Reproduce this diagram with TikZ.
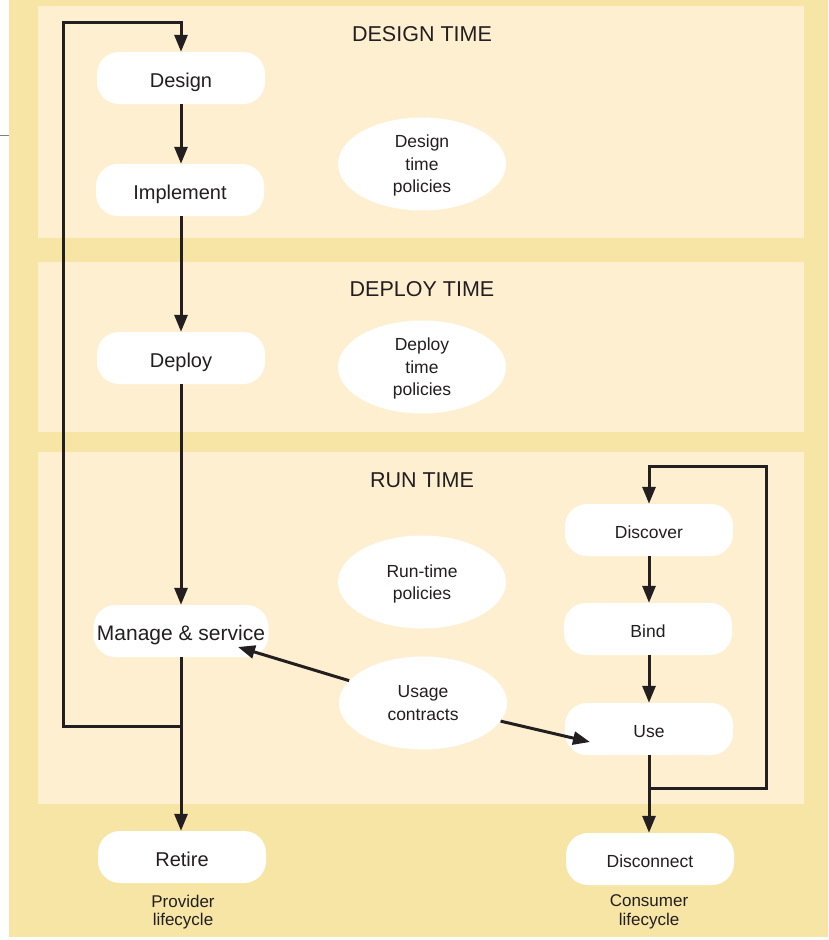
\documentclass[tikz,border=0pt]{standalone}
\usepackage{fontspec}
\setmainfont{Liberation Sans}
\usetikzlibrary{arrows.meta,shapes.geometric}
\definecolor{outerbg}{HTML}{F7E5A6}
\definecolor{panelbg}{HTML}{FEEFD0}
\definecolor{ink}{HTML}{231F20}
\begin{document}
\begin{tikzpicture}[x=1pt,y=-1pt,
  stepbox/.style={fill=white,rounded corners=22pt,minimum width=168pt,minimum height=52pt,inner sep=0pt,text=ink,text height=18pt,text depth=0pt,font=\fontsize{20}{24}\selectfont},
  smallbox/.style={stepbox,text height=16pt,font=\fontsize{17.5}{21}\selectfont},
  policy/.style={ellipse,fill=white,minimum width=168pt,minimum height=93pt,inner sep=0pt,align=center,text=ink,text depth=0pt,font=\fontsize{17.5}{22.5}\selectfont},
  title/.style={text=ink,font=\fontsize{21.5}{26}\selectfont},
  caption/.style={text=ink,align=center,font=\fontsize{17}{18.5}\selectfont},
  flow/.style={draw=ink,line width=3pt,-{Triangle[length=17pt,width=13pt]}},
  plain/.style={draw=ink,line width=3pt},
]
\useasboundingbox (0,0) rectangle (828,940);
% backgrounds
\fill[outerbg] (9,0) rectangle (828,937);
\draw[gray,line width=1pt] (0,135) -- (9,135);
\fill[panelbg] (38,6) rectangle (804,238);
\fill[panelbg] (38,262) rectangle (804,432);
\fill[panelbg] (38,452) rectangle (804,804);

% titles
\node[title] (t1) at (422,34) {DESIGN TIME};
\node[title] (t2) at (422,289) {DEPLOY TIME};
\node[title] (t3) at (422,480) {RUN TIME};

% provider nodes
\node[stepbox] (design) at (181,78) {Design};
\node[stepbox] (implement) at (180,190) {Implement};
\node[stepbox] (deploy) at (181,358) {Deploy};
\node[stepbox,minimum width=175pt,text height=18.5pt,font=\fontsize{21}{25}\selectfont] (manage) at (181,631) {Manage \& service};
\node[stepbox] (retire) at (182,857) {Retire};

% consumer nodes
\node[smallbox] (discover) at (649,530) {Discover};
\node[smallbox] (bind) at (648,629) {Bind};
\node[smallbox] (use) at (649,729) {Use};
\node[smallbox] (disconnect) at (650,859) {Disconnect};

% policies
\node[policy] (dpol) at (422,164) {Design\\time\\policies};
\node[policy] (ppol) at (422,367) {Deploy\\time\\policies};
\node[policy] (rpol) at (422,582) {Run-time\\policies};
\node[policy] (usage) at (423,703) {Usage\\contracts};

% captions
\node[caption] (prov) at (183,912) {Provider\\lifecycle};
\node[caption] (cons) at (649,912) {Consumer\\lifecycle};

% coordinates
\coordinate (j1) at (181,726);
\coordinate (lb) at (63,726);
\coordinate (lt) at (63,22);
\coordinate (j2) at (649,788);
\coordinate (rb) at (766,788);
\coordinate (rt) at (766,466);
\coordinate (mtip) at (238,647);
\coordinate (utip) at (590,742);

% provider flow
\draw[flow] (design.south) -- (implement.north -| design.south);
\draw[flow] (implement.south -| design.south) -- (deploy.north -| design.south);
\draw[flow] (deploy) -- (manage);
\draw[flow] (manage.south) -- (retire.north -| manage.south);
\draw[flow] (j1) -- (lb) -- (lt) -| (design.north);

% consumer flow
\draw[flow] (discover) -- (bind.north -| discover.south);
\draw[flow] (bind.south -| discover.south) -- (use);
\draw[flow] (use) -- (disconnect.north -| use.south);
\draw[flow] (j2) -- (rb) -- (rt) -| (discover.north);

% usage contracts
\draw[flow] (usage) -- (mtip);
\draw[flow] (usage) -- (utip);
\end{tikzpicture}
\end{document}
